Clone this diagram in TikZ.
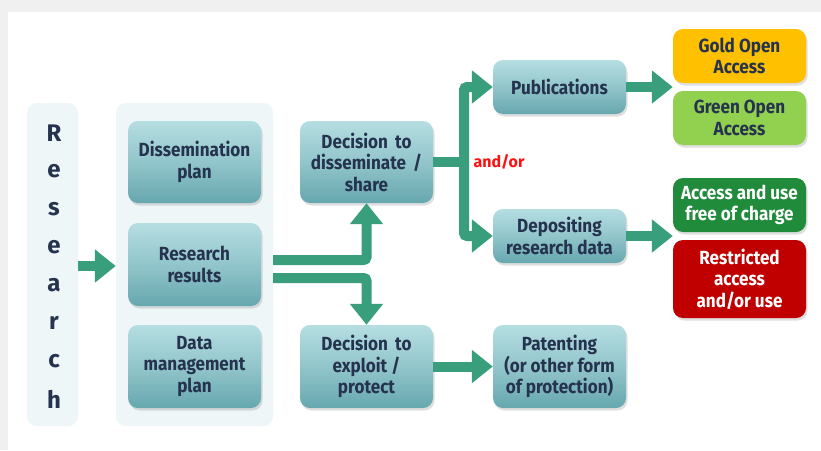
\documentclass[tikz,border=0pt]{standalone}
\usepackage{fontspec}
\setmainfont{Fira Sans}[FakeStretch=0.9]
\newfontfamily\widefont{Fira Sans}
\usetikzlibrary{arrows.meta,shadows,positioning}
\definecolor{navy}{HTML}{25334E}
\definecolor{arrowc}{HTML}{389E7B}
\definecolor{panel}{HTML}{EEF6F8}
\definecolor{boxtop}{HTML}{B5DEE2}
\definecolor{boxbot}{HTML}{66A7AE}
\definecolor{gold}{HTML}{FFC000}
\definecolor{lgreen}{HTML}{92D050}
\definecolor{dgreen}{HTML}{1F8B3B}
\definecolor{dred}{HTML}{C00000}
\definecolor{andor}{HTML}{FF1010}
\tikzset{
  boxbase/.style={rounded corners=10pt, align=center, inner sep=2pt,
    font=\fontsize{19}{21.5}\selectfont\bfseries, text=navy,
    minimum width=133pt,
    drop shadow={opacity=0.25, shadow xshift=1.5pt, shadow yshift=-2.5pt}},
  tealbox/.style={boxbase, top color=boxtop, bottom color=boxbot, middle color=boxtop!55!boxbot},
  flatbox/.style={boxbase, fill=#1},
  panelbox/.style={rounded corners=10pt, fill=panel, draw=none},
  flow/.style={draw=arrowc, line width=10pt, rounded corners=3pt,
    -{Triangle[length=21pt,width=32pt]}},
  flowline/.style={draw=arrowc, line width=10pt, rounded corners=3pt},
  letter/.style={font=\widefont\fontsize{24}{24}\selectfont\bfseries, text=navy, inner sep=0pt}
}
\begin{document}
\begin{tikzpicture}[x=1pt,y=-1pt]
\useasboundingbox (0,0) rectangle (821,450);
\fill[black!6] (0,0) rectangle (821,450);
\fill[white] (8,12) rectangle (821,450);

% panels
\node[panelbox, minimum width=51pt, minimum height=323pt] (research) at (52.5,264.5) {};
\node[panelbox, minimum width=157pt, minimum height=323pt] (inner) at (194.5,264.5) {};

\foreach \l [count=\i from 0] in {R,e,s,e,a,r,c,h}
  \node[letter] (L\i) at (54,133+38*\i) {\l};

% boxes column 1
\node[tealbox, minimum height=82pt] (dissplan) at (194.5,162) {Dissemination\\plan};
\node[tealbox, minimum height=83pt] (results) at (194.5,264.5) {Research\\results};
\node[tealbox, minimum height=83pt] (dmp) at (194.5,366.5) {Data\\management\\plan};

% column 2
\node[tealbox, minimum height=82pt] (decdiss) at (366.5,162) {Decision\, to\\disseminate\, /\\share};
\node[tealbox, minimum height=83pt] (decexp) at (366.5,366.5) {Decision\, to\\exploit /\\protect};

% column 3
\node[tealbox, minimum height=54pt] (pub) at (559.5,87) {Publications};
\node[tealbox, minimum height=54pt] (dep) at (559.5,236) {Depositing\\research data};
\node[tealbox, minimum height=83pt] (pat) at (559.5,366.5) {Patenting\\(or other form\\of protection)};

% column 4
\node[flatbox=gold, minimum height=54pt] (goldoa) at (739.5,56) {Gold Open\\Access};
\node[flatbox=lgreen, minimum height=54pt] (greenoa) at (739.5,118) {Green Open\\Access};
\node[flatbox=dgreen, text=white, minimum height=54pt] (free) at (739.5,205) {Access and use\\free of charge};
\node[flatbox=dred, text=white, minimum height=78pt] (restr) at (739.5,279) {Restricted\\access\\and/or use};

% label
\node[font=\widefont\fontsize{16}{16}\selectfont\bfseries, text=andor, inner sep=0pt] (andor) at (499,162) {and/or};

% coordinates
\coordinate (up0) at (inner.east |- 0,260);
\coordinate (dn0) at (inner.east |- 0,278);
\coordinate (trunk) at (464,162);

% arrows
\draw[flow] (research.east |- 0,266) -- (inner.west |- 0,266);
\draw[flow] (up0) -| (decdiss.south);
\draw[flow] (dn0) -| (decexp.north);
\draw[flowline] (decdiss.east) -- (trunk);
\draw[flow] (trunk) |- (pub.west);
\draw[flow] (trunk) |- (dep.west);
\draw[flow] (decexp.east) -- (pat.west);
\draw[flow] (pub.east) -- (goldoa.west |- pub.east);
\draw[flow] (dep.east) -- (free.west |- dep.east);
\end{tikzpicture}
\end{document}
